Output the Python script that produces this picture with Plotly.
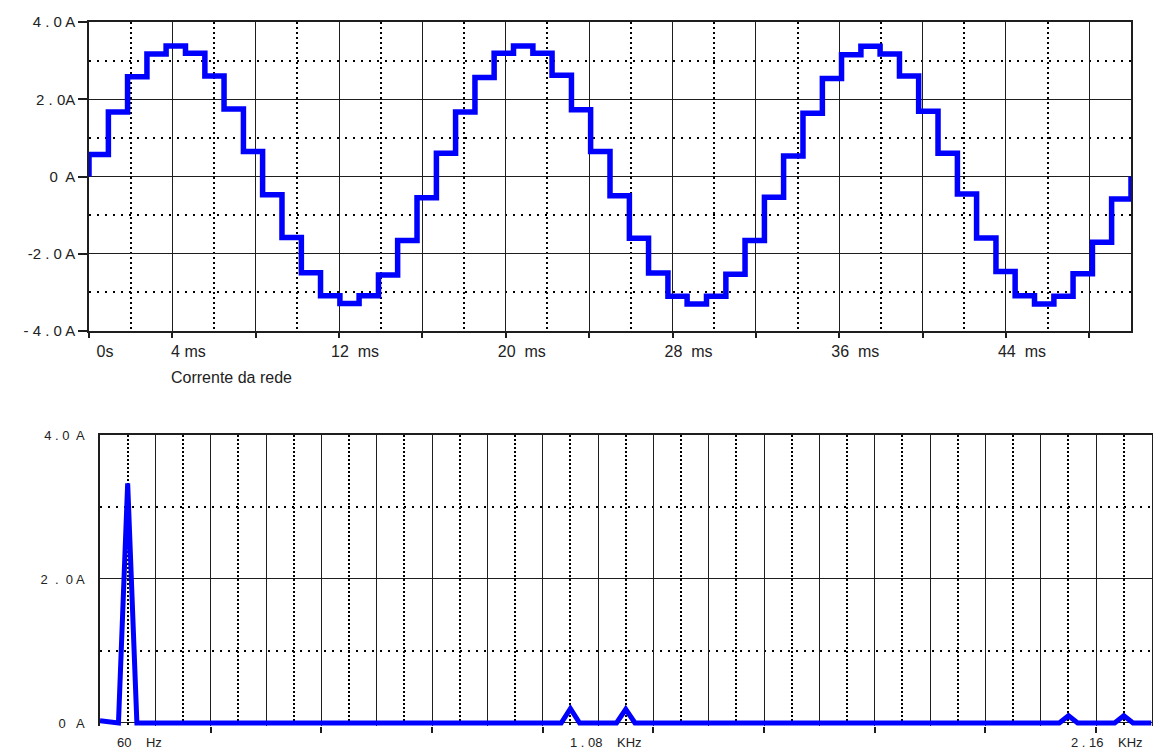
import plotly.graph_objects as go

# ---------------- data ----------------
# Top chart: stepped line current (A) vs time (ms)
step_start_ms = [0.00, 0.93, 1.85, 2.78, 3.70, 4.63, 5.56, 6.48, 7.41, 8.33, 9.26, 10.19,
                 11.11, 12.04, 12.96, 13.89, 14.81, 15.74, 16.67, 17.59, 18.52, 19.44, 20.37,
                 21.30, 22.22, 23.15, 24.07, 25.00, 25.93, 26.85, 27.78, 28.70, 29.63, 30.56,
                 31.48, 32.41, 33.33, 34.26, 35.19, 36.11, 37.04, 37.96, 38.89, 39.81, 40.74,
                 41.67, 42.59, 43.52, 44.44, 45.37, 46.30, 47.22, 48.15, 49.07]
step_level_a = [0.57, 1.67, 2.58, 3.17, 3.38, 3.19, 2.60, 1.75, 0.65, -0.47, -1.58, -2.49,
                -3.09, -3.29, -3.09, -2.55, -1.66, -0.55,
                0.60, 1.67, 2.56, 3.19, 3.38, 3.19, 2.62, 1.73, 0.65, -0.50, -1.60, -2.50,
                -3.10, -3.30, -3.10, -2.53, -1.66, -0.54,
                0.53, 1.64, 2.54, 3.15, 3.37, 3.17, 2.60, 1.69, 0.60, -0.45, -1.59, -2.46,
                -3.09, -3.30, -3.10, -2.52, -1.70, -0.58]
t_end_ms = 50.0

time_tick_vals = [0, 4, 8, 12, 16, 20, 24, 28, 32, 36, 40, 44, 48]
time_tick_text = ["0s", "4 ms", "", "12  ms", "", "20  ms", "", "28  ms", "", "36  ms", "", "44  ms", ""]
time_minor_vals = [2, 6, 10, 14, 18, 22, 26, 30, 34, 38, 42, 46]
cur_tick_vals = [-4, -2, 0, 2, 4]
cur_tick_text = ["- 4 . 0 A", "-2 . 0 A", "0  A", "2 . 0A", "4 . 0 A"]
cur_minor_vals = [-3, -1, 1, 3]

# Bottom chart: spectrum amplitude (A) vs frequency (Hz)
freq_hz = [0, 20, 40, 60, 80, 1000, 1020, 1040, 1120, 1140, 1160,
           2080, 2100, 2120, 2200, 2220, 2240, 2280]
amp_a = [0.03, 0.01, 0.0, 3.33, 0.0, 0.0, 0.20, 0.0, 0.0, 0.19, 0.0,
         0.0, 0.10, 0.0, 0.0, 0.10, 0.0, 0.0]
freq_max = 2280

freq_grid_vals = list(range(0, 2281, 120))
freq_minor_vals = list(range(60, 2281, 120))
freq_tick_vals = list(range(240, 2281, 240))
freq_label_vals = [60, 1080, 2160]
freq_label_text = ["60    Hz", "1 . 08    KHz", "2 . 16    KHz"]
amp_tick_vals = [0, 2, 4]
amp_tick_text = ["0   A", "2  .  0 A", "4 . 0  A"]
amp_minor_vals = [1, 3]

# ---------------- figure ----------------
W, H = 1153, 749
FONT = "Arial, 'Liberation Sans', sans-serif"
BLUE = "#0000ff"
GRID = "#1e1e1e"

fig = go.Figure()

fig.add_trace(go.Scatter(
    x=[0] + step_start_ms + [t_end_ms],
    y=[0] + step_level_a + [0],
    mode="lines", line=dict(color=BLUE, width=5.5, shape="hv"),
    xaxis="x", yaxis="y", showlegend=False, hoverinfo="skip"))

fig.add_trace(go.Scatter(
    x=freq_hz, y=amp_a, mode="lines", line=dict(color=BLUE, width=5),
    xaxis="x2", yaxis="y2", showlegend=False, hoverinfo="skip"))

# invisible trace to carry the tick-only overlay axis
fig.add_trace(go.Scatter(x=[None], y=[None], mode="lines", xaxis="x3", yaxis="y2",
                         showlegend=False, hoverinfo="skip"))

def px_x(p):
    return p / W

def px_y(p):
    return 1 - p / H

fig.update_layout(
    width=W, height=H, margin=dict(l=0, r=0, t=0, b=0),
    template="none", paper_bgcolor="white", plot_bgcolor="white",
    font=dict(family=FONT, color="#222", size=15),
    xaxis=dict(
        domain=[px_x(89), px_x(1131)], anchor="y", range=[0, t_end_ms],
        tickmode="array", tickvals=time_tick_vals, ticktext=time_tick_text,
        ticks="outside", ticklen=5, tickwidth=1.5, tickcolor=GRID,
        ticklabelshift=16, tickfont=dict(size=16, family=FONT, color="#222"),
        showgrid=True, gridcolor=GRID, gridwidth=1,
        minor=dict(tickmode="array", tickvals=time_minor_vals, showgrid=True,
                   gridcolor="black", gridwidth=2, griddash="2px,3px", ticks=""),
        showline=True, mirror=True, linecolor=GRID, linewidth=1.5,
        zeroline=False, automargin=False),
    yaxis=dict(
        domain=[px_y(331), px_y(22)], anchor="x", range=[-4, 4],
        tickmode="array", tickvals=cur_tick_vals, ticktext=cur_tick_text,
        ticks="outside", ticklen=9, tickwidth=1.5, tickcolor=GRID,
        tickfont=dict(size=15, family=FONT, color="#222"),
        showgrid=True, gridcolor=GRID, gridwidth=1,
        minor=dict(tickmode="array", tickvals=cur_minor_vals, showgrid=True,
                   gridcolor="black", gridwidth=2, griddash="2px,6px", ticks=""),
        showline=True, mirror=True, linecolor=GRID, linewidth=1.5,
        zeroline=False, automargin=False),
    xaxis2=dict(
        domain=[px_x(100), px_x(1151.5)], anchor="y2", range=[0, freq_max],
        side="top",
        tickmode="array", tickvals=freq_grid_vals, showticklabels=False, ticks="",
        showgrid=True, gridcolor=GRID, gridwidth=1,
        minor=dict(tickmode="array", tickvals=freq_minor_vals, showgrid=True,
                   gridcolor="black", gridwidth=2, griddash="2px,2px", ticks=""),
        showline=True, mirror=False, linecolor=GRID, linewidth=1.5,
        zeroline=False, automargin=False),
    xaxis3=dict(
        overlaying="x2", anchor="y2", side="bottom", range=[0, freq_max],
        tickmode="array", tickvals=freq_tick_vals, showticklabels=False,
        ticks="outside", ticklen=6, tickwidth=1.5, tickcolor=GRID,
        showgrid=False, showline=False, zeroline=False, automargin=False),
    yaxis2=dict(
        domain=[px_y(726), px_y(435)], anchor="x2", range=[-0.042, 4],
        tickmode="array", tickvals=amp_tick_vals, ticktext=amp_tick_text,
        ticks="outside", ticklen=11, tickcolor="rgba(0,0,0,0)",
        tickfont=dict(size=13, family=FONT, color="#222"),
        showgrid=True, gridcolor=GRID, gridwidth=1.2,
        minor=dict(tickmode="array", tickvals=amp_minor_vals, showgrid=True,
                   gridcolor="black", gridwidth=2, griddash="2px,6px", ticks=""),
        showline=True, mirror=True, linecolor=GRID, linewidth=1.5,
        zeroline=False, automargin=False),
)

annotations = [dict(text="Corrente da rede", xref="paper", yref="paper",
                    x=px_x(169), y=px_y(377), xanchor="left", yanchor="middle",
                    showarrow=False, font=dict(size=16, family=FONT, color="#222"))]
label_shift = {60: -13, 1080: -30, 2160: -27}
for v, t in zip(freq_label_vals, freq_label_text):
    annotations.append(dict(text=t, xref="x2", yref="y2 domain", x=v, y=0,
                            xanchor="left", yanchor="middle", xshift=label_shift[v],
                            yshift=-16, showarrow=False,
                            font=dict(size=13, family=FONT, color="#222")))
fig.update_layout(annotations=annotations)

fig.write_html("out.html")
